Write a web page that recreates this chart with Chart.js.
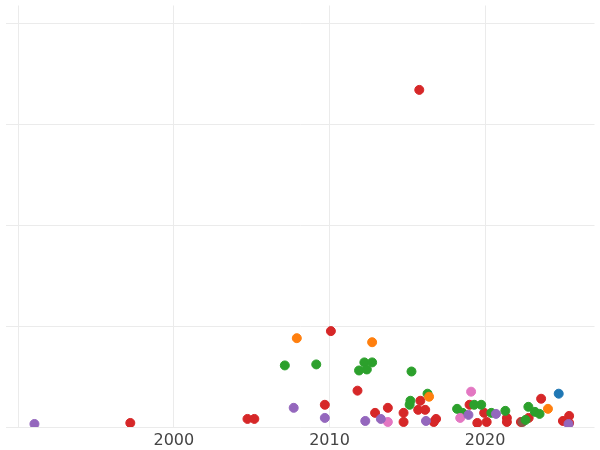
<!DOCTYPE html>
<html><head><meta charset="utf-8">
<script src="https://cdn.jsdelivr.net/npm/chart.js@4/dist/chart.umd.min.js"></script>
<style>html,body{margin:0;padding:0;background:#fff}#c{width:600px;height:450px}</style>
</head><body><div id="c"><canvas id="cv" width="600" height="450"></canvas></div>
<script>
const redX=[2015.77,2010.09,2011.8,2009.7,2013.75,2012.93,2004.73,2005.17,1997.2,2014.76,2014.76,2015.84,2015.7,2016.15,2016.85,2016.7,2019.0,2019.5,2019.94,2020.1,2021.4,2021.4,2022.3,2022.8,2023.6,2025.0,2025.4,2025.4];
const redY=[3.34,0.95,0.36,0.22,0.19,0.14,0.08,0.08,0.04,0.14,0.05,0.26,0.17,0.17,0.08,0.05,0.22,0.04,0.14,0.05,0.09,0.05,0.05,0.09,0.28,0.06,0.11,0.04];
const greenX=[2007.13,2009.15,2011.9,2012.24,2012.74,2012.4,2015.27,2015.2,2015.15,2016.3,2018.2,2019.3,2019.75,2018.55,2020.4,2021.3,2022.78,2023.2,2023.5,2022.6];
const greenY=[0.61,0.62,0.56,0.64,0.64,0.57,0.55,0.26,0.22,0.33,0.18,0.22,0.22,0.14,0.14,0.16,0.2,0.15,0.13,0.07];
const orangeX=[2007.9,2012.74,2016.4,2024.04];
const orangeY=[0.88,0.84,0.30,0.18];
const purpleX=[1991.04,2007.7,2009.7,2012.3,2013.3,2016.2,2018.93,2020.7,2025.36];
const purpleY=[0.03,0.19,0.09,0.06,0.08,0.06,0.12,0.13,0.03];
const pinkX=[2019.1,2018.4,2013.75];
const pinkY=[0.35,0.09,0.05];
const brownX=[2022.4];const brownY=[0.05];
const blueX=[2024.73];const blueY=[0.33];
const pts=(xs,ys)=>xs.map((x,i)=>({x:x,y:ys[i]}));
const ds=(xs,ys,c)=>({data:pts(xs,ys),backgroundColor:c,borderColor:c,pointRadius:4.5,pointHoverRadius:4.5});
new Chart(document.getElementById('cv'),{type:'scatter',
data:{datasets:[ds(purpleX,purpleY,'#9467bd'),ds(pinkX,pinkY,'#e377c2'),ds(orangeX,orangeY,'#ff7f0e'),ds(greenX,greenY,'#2ca02c'),ds(brownX,brownY,'#8c564b'),ds(blueX,blueY,'#1f77b4'),ds(redX,redY,'#d62728')]},
options:{responsive:false,animation:false,layout:{padding:{left:-6,right:-6,top:-6,bottom:0}},
plugins:{legend:{display:false},tooltip:{enabled:false}},
scales:{
x:{type:'linear',min:1989.18,max:2027.03,afterBuildTicks:a=>{a.ticks=[1990,2000,2010,2020].map(v=>({value:v}));},
afterFit:a=>{a.height=23;},
grid:{color:'#ebebeb',drawTicks:false},border:{display:false},
ticks:{padding:4,color:'#444',font:{family:'DejaVu Sans',size:16},callback:v=>v===1990?'':String(v)}},
y:{min:0,max:4.176,afterFit:a=>{a.width=0;},afterBuildTicks:a=>{a.ticks=[0,1,2,3,4].map(v=>({value:v}));},
grid:{color:'#ebebeb',drawTicks:false},border:{display:false},ticks:{display:false}}}}});
</script></body></html>
